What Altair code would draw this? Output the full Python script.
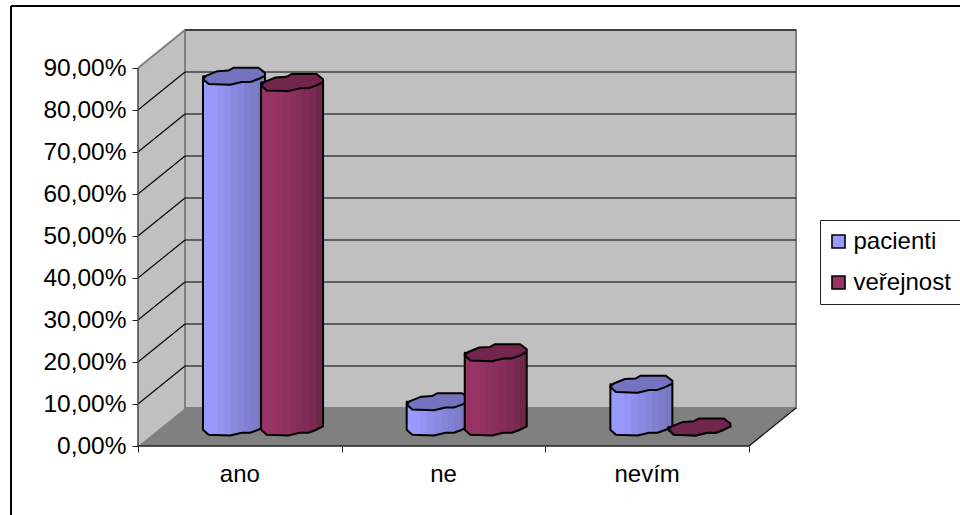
import altair as alt
import pandas as pd

categories = ["ano", "ne", "nevím"]
series = ["pacienti", "veřejnost"]
pacienti = [83.5, 6.0, 10.2]
verejnost = [82.0, 17.7, 0.0]
y_ticks = [0, 10, 20, 30, 40, 50, 60, 70, 80, 90]

FONT = "Liberation Sans"
DX = 0.2308   # sideways shift of the back wall, in category units
DY = 38 / 4.2  # upward shift of the back wall, in percentage points
DEPTH = 0.5   # depth of the column axes between front and back wall
OFFSET = {"pacienti": 0.356, "veřejnost": 0.641}
HALF_W = 0.1522  # column radius, in category units
HALF_H = 2.02    # projected radius of the column ends, in percentage points

# Faceted outline of a column end, normalised to its radius
ring_x = [-1, -0.89, -0.53, -0.18, -0.02, 0.79, 1, 1, 0.79, 0.52, 0.25, -0.12, -0.82]
ring_y = [0.32, -0.08, -0.6, -0.68, -1, -1, -0.4, -0.08, 0.32, 0.68, 0.68, 1, 0.92]
lower_x = [-1, -0.82, -0.12, 0.25, 0.52, 0.79, 1]
lower_y = [0.32, 0.92, 1, 0.68, 0.68, 0.32, -0.08]
RATIO = 8.5 / 31
ring_path = "M" + " L".join(f"{a} {b * RATIO:.3f}" for a, b in zip(ring_x, ring_y)) + " Z"

x_scale = alt.Scale(domain=[0, 659 / 203.67], nice=False, zero=False)
y_scale = alt.Scale(domain=[0, 416 / 4.2], nice=False, zero=False)
x_axis = alt.Axis(
    values=[0, 1, 2, 3], labels=False, domain=False, grid=False, ticks=True,
    tickColor="#222222", tickSize=6, tickWidth=1, title=None)
y_axis = alt.Axis(
    values=y_ticks, domain=False, grid=False, tickColor="#222222", tickSize=6, tickWidth=1,
    labelFont=FONT, labelFontSize=24.5, labelColor="#000000", labelPadding=6, title=None,
    labelExpr="replace(format(datum.value, '.2f'), '.', ',') + '%'")
X = alt.X("x:Q", scale=x_scale, axis=x_axis)
Y = alt.Y("y:Q", scale=y_scale, axis=y_axis)
X2 = alt.X2("x2:Q")
Y2 = alt.Y2("y2:Q")

# Walls and floor
left_wall = pd.DataFrame({"x": [0, DX], "y": [90, 90 + DY], "y2": [0, DY]})
back_wall = pd.DataFrame({"x": [DX, 3 + DX], "y": [90 + DY] * 2, "y2": [DY] * 2})
floor = pd.DataFrame({"x": [0, DX, 3, 3 + DX], "y": [0, DY, DY, DY], "y2": [0, 0, 0, DY]})

left_layer = alt.Chart(left_wall).mark_area(color="#C0C0C0").encode(x=X, y=Y, y2=Y2)
back_layer = alt.Chart(back_wall).mark_area(color="#C0C0C0", stroke="#808080", strokeWidth=2).encode(x=X, y=Y, y2=Y2)
floor_layer = alt.Chart(floor).mark_area(color="#808080").encode(x=X, y=Y, y2=Y2)

# Gridlines: flat on the back wall, slanted on the side wall
back_grid = alt.Chart(pd.DataFrame({
    "x": [DX] * 9, "x2": [3 + DX] * 9, "y": [v + DY for v in y_ticks[1:]]
})).mark_rule(color="#000000", strokeWidth=1.2).encode(x=X, x2=X2, y=Y)

side_rows = []
for v in y_ticks[1:-1]:
    side_rows += [{"x": 0, "y": v, "v": v}, {"x": DX, "y": v + DY, "v": v}]
side_grid = alt.Chart(pd.DataFrame(side_rows)).mark_line(color="#000000", strokeWidth=1.1).encode(
    x=X, y=Y, detail="v:N")

top_edge = alt.Chart(pd.DataFrame({"x": [0, DX], "y": [90, 90 + DY]})).mark_line(
    color="#808080", strokeWidth=2).encode(x=X, y=Y)
right_edge = alt.Chart(pd.DataFrame({"x": [3, 3 + DX], "y": [0, DY]})).mark_line(
    color="#111111", strokeWidth=1.2).encode(x=X, y=Y)
front_edge = alt.Chart(pd.DataFrame({"x": [0], "x2": [3], "y": [0]})).mark_rule(
    color="#222222", strokeWidth=1.5).encode(x=X, x2=X2, y=Y)
left_edge = alt.Chart(pd.DataFrame({"x": [0], "y": [0], "y2": [90]})).mark_rule(
    color="#444444", strokeWidth=1.5).encode(x=X, y=Y, y2=Y2)


def cx(cat, name):
    return cat + OFFSET[name] + DEPTH * DX


BASE = DEPTH * DY
values = {"pacienti": pacienti, "veřejnost": verejnost}

tops, bodies = {}, {}
for name in series:
    tops[name] = pd.DataFrame({
        "x": [cx(i, name) for i in range(3)],
        "y": [values[name][i] + BASE for i in range(3)],
    })
    rows = []
    for i in range(3):
        for a, b in zip(lower_x, lower_y):
            rows.append({
                "x": cx(i, name) + a * HALF_W,
                "y": BASE - b * HALF_H,
                "y2": values[name][i] + BASE,
                "column": i,
            })
    bodies[name] = pd.DataFrame(rows)


def banded(colors):
    # Shading of the column sides as flat vertical strips
    n = len(colors)
    stops = []
    for i, c in enumerate(colors):
        stops.append(alt.GradientStop(offset=i / n, color=c))
        stops.append(alt.GradientStop(offset=(i + 1) / n, color=c))
    return alt.Gradient(gradient="linear", x1=0, x2=1, y1=0, y2=0, stops=stops)


side_colors = {
    "pacienti": ["#9999FF", "#9999FC", "#9494F2", "#8F8FEA", "#8A8AE2", "#8585DA", "#8080D2", "#7C7CC8", "#7878BE"],
    "veřejnost": ["#993366", "#973365", "#933263", "#8E3060", "#8A2F5D", "#852D5A", "#802B56", "#7A2A52", "#6F264B"],
}
top_colors = {"pacienti": "#7373BF", "veřejnost": "#73264D"}
legend_colors = [side_colors["pacienti"][0], side_colors["veřejnost"][0]]

# Small markers behind the columns carry the legend
legend_rows = pd.DataFrame({
    "x": [cx(0, n) for n in series],
    "y": [BASE + 1 for _ in series],
    "series": series,
})
legend_layer = alt.Chart(legend_rows).mark_square(size=4, opacity=1).encode(
    x=X, y=Y,
    color=alt.Color("series:N", scale=alt.Scale(domain=series, range=legend_colors), legend=alt.Legend(
        title=None, orient="none", legendX=682, legendY=190, direction="vertical",
        symbolType="square", symbolSize=170, symbolStrokeColor="#000000", symbolStrokeWidth=1.6,
        symbolOpacity=1, symbolOffset=-3, labelFont=FONT, labelFontSize=24, labelColor="#000000",
        labelOffset=3, rowPadding=17, padding=9.5, strokeColor="#222222", fillColor="#FFFFFF",
        cornerRadius=0, labelLimit=200)),
)

column_layers = []
for name in series:
    column_layers.append(
        alt.Chart(bodies[name]).mark_area(
            fill=banded(side_colors[name]), stroke="#000000", strokeWidth=2, strokeJoin="round"
        ).encode(x=X, y=Y, y2=Y2, detail="column:N")
    )
    column_layers.append(
        alt.Chart(tops[name]).mark_point(
            shape=ring_path, size=(2 * 31) ** 2, filled=True, fill=top_colors[name], opacity=1,
            stroke="#000000", strokeWidth=2, strokeJoin="round"
        ).encode(x=X, y=Y)
    )

cat_labels = alt.Chart(pd.DataFrame({
    "x": [0.5, 1.5, 2.5], "y": [-6.9] * 3, "label": categories
})).mark_text(font=FONT, fontSize=24, color="#000000", baseline="middle").encode(x=X, y=Y, text="label:N")

# Frame lines along the top and left of the page
frame_left = alt.Chart(pd.DataFrame({"a": [0]})).mark_rule(color="#000000", strokeWidth=2).encode(
    x=alt.value(11 - 138), y=alt.value(6 - 30), y2=alt.value(520))
frame_top = alt.Chart(pd.DataFrame({"a": [0]})).mark_rule(color="#000000", strokeWidth=2).encode(
    y=alt.value(6 - 30), x=alt.value(11 - 138), x2=alt.value(830))

chart = alt.layer(
    frame_left, frame_top, left_layer, back_layer, floor_layer, back_grid, side_grid,
    top_edge, left_edge, right_edge, front_edge, legend_layer, *column_layers, cat_labels,
).properties(
    width=659, height=416,
    padding={"left": 138, "top": 30, "right": 163, "bottom": 69},
    autosize=alt.AutoSizeParams(type="none"),
    background="#FFFFFF",
).configure_view(stroke=None)

chart.save("out.html", embed_options={"renderer": "svg", "actions": False})
